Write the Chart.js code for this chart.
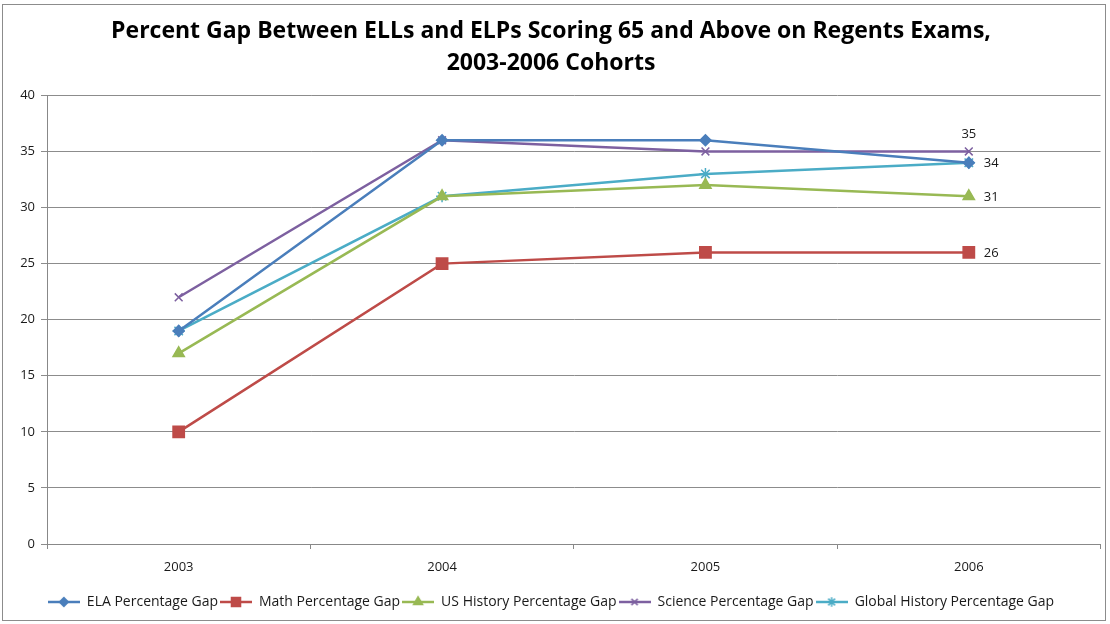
<!DOCTYPE html>
<html>
<head>
<meta charset="utf-8">
<script src="https://cdn.jsdelivr.net/npm/chart.js@4.4.1/dist/chart.umd.min.js"></script>
<style>
  html, body { margin: 0; padding: 0; background: #fff; }
  #wrap { position: relative; width: 1110px; height: 624px; }
  #frame { position: absolute; left: 2px; top: 4px; width: 1104px; height: 617px; border: 1px solid #8c8c8c; box-sizing: border-box; pointer-events: none; }
</style>
</head>
<body>
<div id="wrap">
  <canvas id="grafico" width="1110" height="624"></canvas>
  <div id="frame"></div>
</div>
<script>
// Datos del gráfico
const anios = ['2003', '2004', '2005', '2006'];
const elaGap = [19, 36, 36, 34];
const mathGap = [10, 25, 26, 26];
const usHistoryGap = [17, 31, 32, 31];
const scienceGap = [22, 36, 35, 35];
const globalHistoryGap = [19, 31, 33, 34];
const yTicks = [0, 5, 10, 15, 20, 25, 30, 35, 40];

const fuente = '"Open Sans", Lato, sans-serif';

// Icono de leyenda: línea con marcador, como en Excel
function iconoLeyenda(color, estilo, radio) {
    const c = document.createElement('canvas');
    c.width = 32;
    c.height = 16;
    const ctx = c.getContext('2d');
    ctx.strokeStyle = color;
    ctx.lineWidth = 2.5;
    ctx.beginPath();
    ctx.moveTo(0, 8);
    ctx.lineTo(32, 8);
    ctx.stroke();
    ctx.fillStyle = color;
    ctx.lineWidth = 1.5;
    Chart.helpers.drawPoint(ctx, { pointStyle: estilo, radius: radio, borderWidth: 1.5, rotation: 0 }, 16, 8);
    return c;
}

function serie(label, data, color, estilo, radio) {
    return {
        label: label,
        data: data,
        borderColor: color,
        backgroundColor: color,
        borderWidth: 2.5,
        pointStyle: estilo,
        pointRadius: radio,
        pointBorderWidth: 1.5,
        pointBackgroundColor: color,
        pointBorderColor: color,
        tension: 0,
        iconStyle: estilo
    };
}

const series = [
    serie('ELA Percentage Gap', elaGap, '#4a7ebb', 'rectRot', 5.5),
    serie('Math Percentage Gap', mathGap, '#be4b48', 'rect', 8),
    serie('US History Percentage Gap', usHistoryGap, '#98b954', 'triangle', 6.5),
    serie('Science Percentage Gap', scienceGap, '#7d60a0', 'crossRot', 5.5),
    serie('Global History Percentage Gap', globalHistoryGap, '#4bacc6', 'star', 6)
];

// Etiquetas del último punto: índice de serie y posición
const etiquetasFinales = [
    { serie: 3, pos: 'arriba' },
    { serie: 0, pos: 'derecha' },
    { serie: 2, pos: 'derecha' },
    { serie: 1, pos: 'derecha' }
];

const pluginEtiquetas = {
    id: 'etiquetasFinales',
    afterDatasetsDraw(chart) {
        const ctx = chart.ctx;
        ctx.save();
        ctx.font = '13px ' + fuente;
        ctx.fillStyle = '#1a1a1a';
        etiquetasFinales.forEach(e => {
            const meta = chart.getDatasetMeta(e.serie);
            const i = meta.data.length - 1;
            const p = meta.data[i];
            const valor = chart.data.datasets[e.serie].data[i];
            if (e.pos === 'arriba') {
                ctx.textAlign = 'center';
                ctx.textBaseline = 'bottom';
                ctx.fillText(valor, p.x, p.y - 11);
            } else {
                ctx.textAlign = 'left';
                ctx.textBaseline = 'middle';
                ctx.fillText(valor, p.x + 15, p.y + 1);
            }
        });
        ctx.restore();
    }
};

new Chart(document.getElementById('grafico').getContext('2d'), {
    type: 'line',
    data: {
        labels: anios,
        datasets: series
    },
    options: {
        responsive: false,
        animation: false,
        layout: { padding: { left: 0, right: 8, top: 0, bottom: 5 } },
        plugins: {
            title: {
                display: true,
                text: ['Percent Gap Between ELLs and ELPs Scoring 65 and Above on Regents Exams,', '2003-2006 Cohorts'],
                color: '#000',
                font: { family: fuente, size: 23, weight: 'bold', lineHeight: 1.4 },
                padding: { top: 15, bottom: 16 }
            },
            legend: {
                position: 'bottom',
                labels: {
                    color: '#1a1a1a',
                    font: { family: fuente, size: 14 },
                    usePointStyle: true,
                    pointStyleWidth: 32,
                    boxWidth: 32,
                    boxHeight: 16,
                    padding: 2,
                    generateLabels(chart) {
                        return chart.data.datasets.map((ds, i) => ({
                            text: ds.label,
                            fillStyle: ds.borderColor,
                            strokeStyle: ds.borderColor,
                            lineWidth: 0,
                            pointStyle: iconoLeyenda(ds.borderColor, ds.iconStyle, ds.pointRadius * 0.8),
                            datasetIndex: i,
                            fontColor: '#1a1a1a'
                        }));
                    }
                }
            },
            tooltip: { enabled: false }
        },
        scales: {
            x: {
                offset: true,
                grid: {
                    offset: true,
                    drawOnChartArea: false,
                    drawTicks: true,
                    tickLength: 5,
                    color: '#888'
                },
                border: { color: '#888' },
                ticks: {
                    color: '#1a1a1a',
                    font: { family: fuente, size: 13 },
                    padding: 10
                },
                afterFit(scale) { scale.height = 49; }
            },
            y: {
                min: 0,
                max: 40,
                afterBuildTicks(scale) {
                    scale.ticks = yTicks.map(v => ({ value: v }));
                },
                grid: {
                    color: '#8c8c8c',
                    tickLength: 6
                },
                border: { color: '#888' },
                ticks: {
                    color: '#1a1a1a',
                    font: { family: fuente, size: 13 },
                    padding: 6
                },
                afterFit(scale) { scale.width = 47; }
            }
        }
    },
    plugins: [pluginEtiquetas]
});
</script>
</body>
</html>
